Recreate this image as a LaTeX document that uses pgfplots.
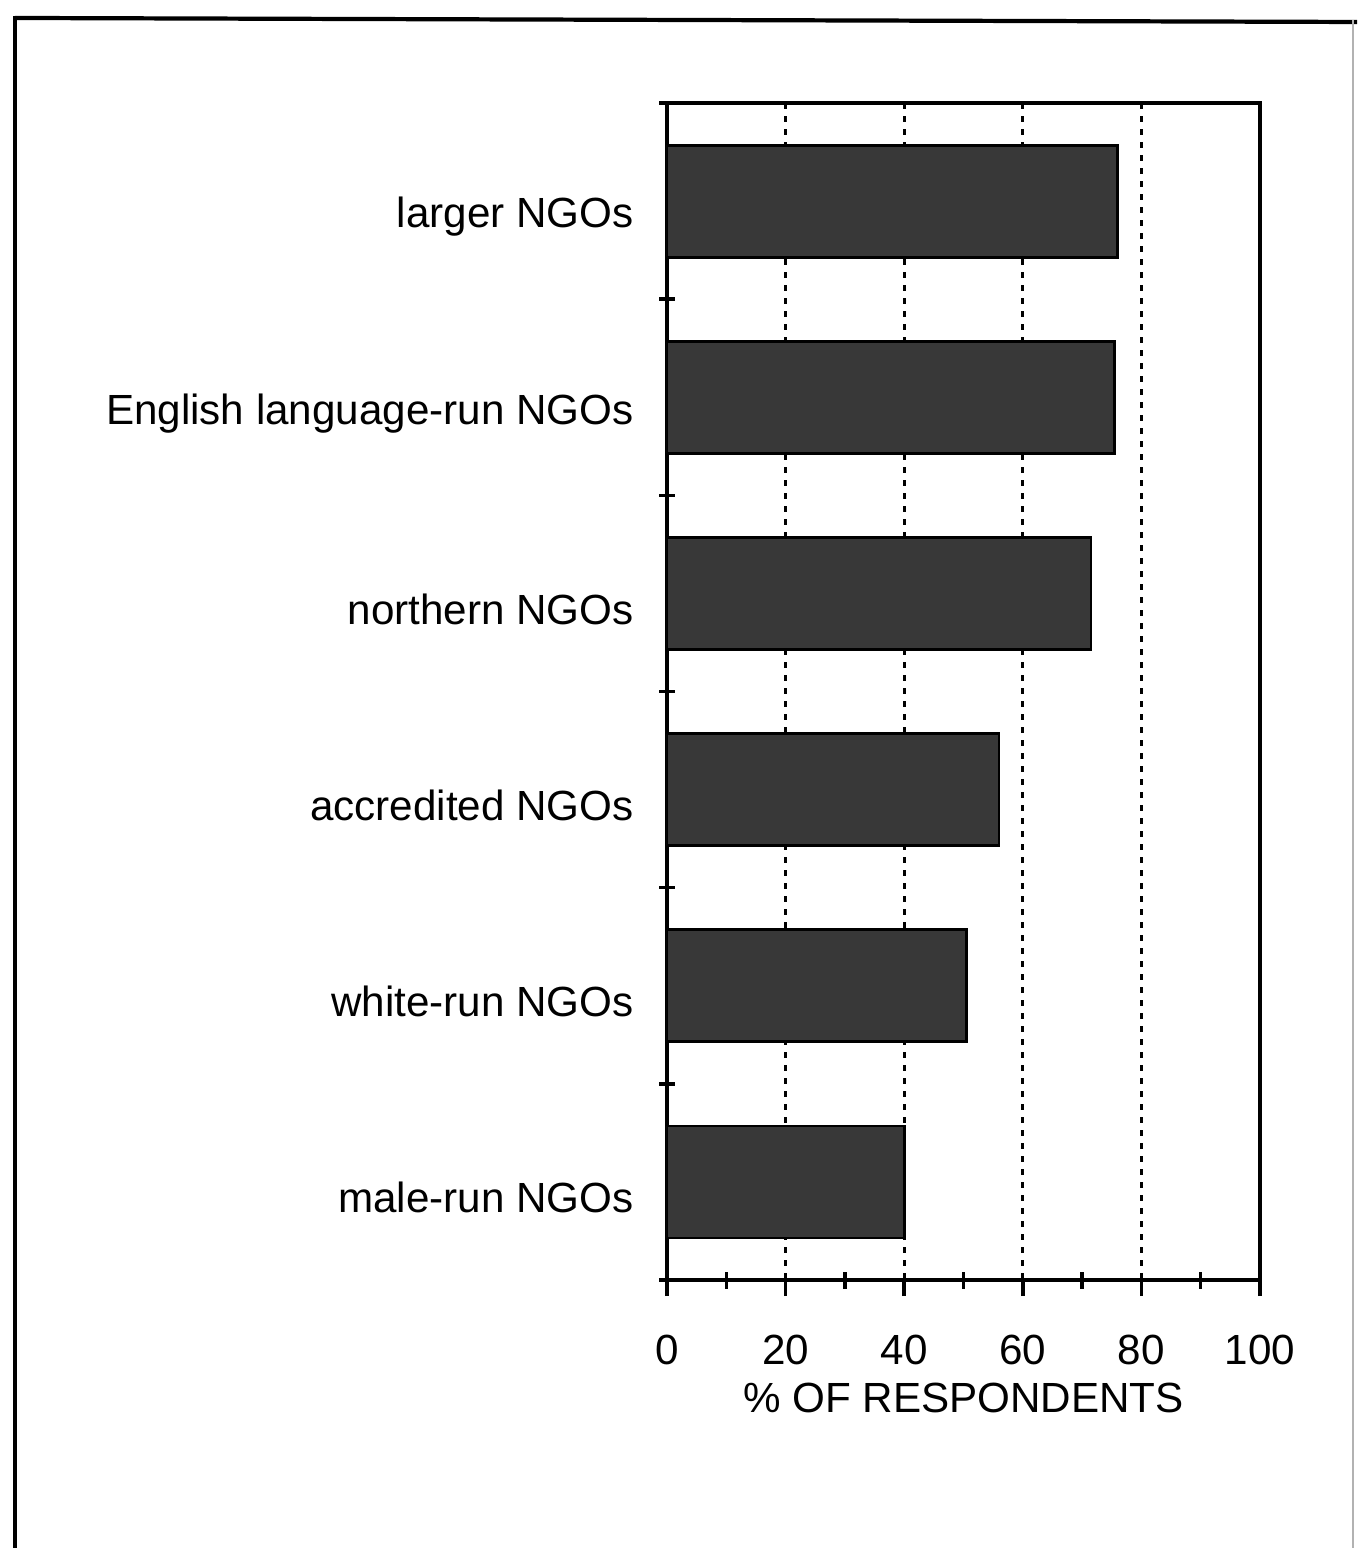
\documentclass[border=0pt]{standalone}
\usepackage{fontspec}
\setmainfont{Liberation Sans}
\usepackage{pgfplots}
\pgfplotsset{compat=1.18}
\begin{document}
\begin{tikzpicture}
% page area and outer frame
\path[use as bounding box] (-6.67,-2.68) rectangle (6.90,12.80);
\draw[line width=1.2pt] (-6.52,12.62) -- (6.90,12.58);
\draw[line width=1pt] (-6.52,12.64) -- (-6.52,-2.68);
\draw[gray!60, line width=0.4pt] (6.86,12.6) -- (6.86,-2.68);
\begin{axis}[
  at={(0,0)}, anchor=south west, scale only axis,
  width=5.93cm, height=11.77cm,
  xbar, bar width=1.12cm,
  xmin=0, xmax=100, ymin=-0.5, ymax=5.5, y dir=reverse,
  axis line style={line width=1pt},
  xtick={0,20,...,100}, xtick pos=bottom,
  minor xtick={10,30,...,90},
  ytick={-0.5,0.5,1.5,2.5,3.5,4.5}, ytick pos=left,
  yticklabels={larger NGOs, English language-run NGOs, northern NGOs, accredited NGOs, white-run NGOs, male-run NGOs},
  extra y ticks={5.5}, extra y tick labels={},
  tick align=outside,
  major tick length=0.16cm, minor tick length=0.17cm,
  tick style={black, line width=1pt},
  every minor tick/.append style={yshift=0.085cm},
  ytick style={xshift=0.085cm},
  xmajorgrids,
  grid style={black, line width=0.9pt, dash pattern=on 0.06cm off 0.07cm},
  /pgf/number format/assume math mode=true,
  tick label style={font=\fontsize{12}{14}\selectfont},
  yticklabel style={anchor=east, yshift=-1.14cm, xshift=-0.05cm},
  xticklabel style={yshift=-0.27cm},
  xlabel={\% OF RESPONDENTS},
  xlabel style={font=\fontsize{12}{14}\selectfont, yshift=0.06cm},
]
\addplot[fill=black!78, draw=black, line width=0.8pt]
  coordinates {(76,0) (75.5,1) (71.5,2) (56,3) (50.5,4) (40,5)};
\end{axis}
\end{tikzpicture}
\end{document}
